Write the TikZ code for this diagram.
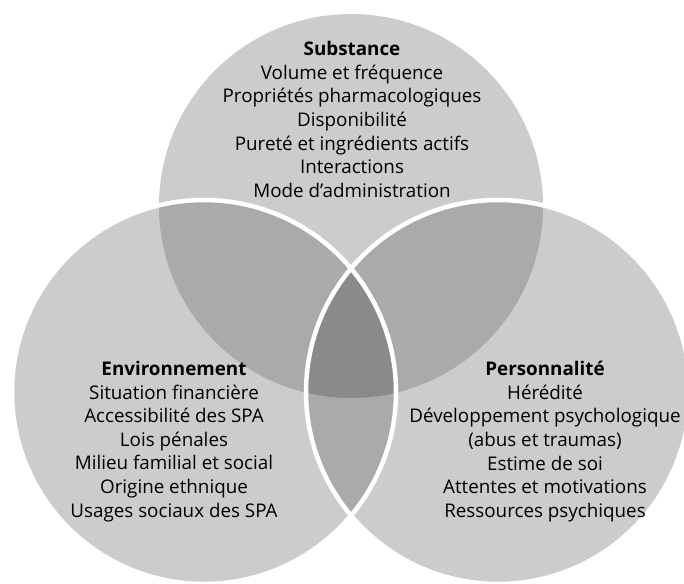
\documentclass[tikz,border=0pt]{standalone}
\usepackage{fontspec}
\setmainfont[Ligatures=TeX]{Open Sans}
\begin{document}
\begin{tikzpicture}[x=1pt,y=-1pt,
  txt/.style={align=center,text=black,inner sep=0pt,font=\fontsize{18.8}{23.6}\selectfont},
  rim/.style={draw=white,line width=4.5pt}]
\definecolor{one}{gray}{0.80}
\definecolor{two}{gray}{0.665}
\definecolor{three}{gray}{0.54}
\useasboundingbox (0,0) rectangle (684,583);
\def\R{192pt}
\coordinate (S) at (351,206);
\coordinate (E) at (204,392);
\coordinate (P) at (498,392);
% single regions
\fill[one] (S) circle[radius=\R];
\fill[one] (E) circle[radius=\R];
\fill[one] (P) circle[radius=\R];
% pairwise overlaps
\begin{scope}
  \clip (S) circle[radius=\R];
  \fill[two] (E) circle[radius=\R];
  \fill[two] (P) circle[radius=\R];
\end{scope}
\begin{scope}
  \clip (E) circle[radius=\R];
  \fill[two] (P) circle[radius=\R];
\end{scope}
% triple overlap
\begin{scope}
  \clip (S) circle[radius=\R];
  \clip (E) circle[radius=\R];
  \fill[three] (P) circle[radius=\R];
\end{scope}
% white rims of the lower circles
\draw[rim] (E) circle[radius=\R];
\draw[rim] (P) circle[radius=\R];
% texts
\node[txt] (sub) at (352,119.5) {\textbf{Substance}\\Volume et fréquence\\Propriétés pharmacologiques\\Disponibilité\\Pureté et ingrédients actifs\\Interactions\\Mode d’administration};
\node[txt] (env) at (174,441.5) {\textbf{Environnement}\\Situation financière\\Accessibilité des SPA\\Lois pénales\\Milieu familial et social\\Origine ethnique\\Usages sociaux des SPA};
\node[txt] (per) at (545,441.5) {\textbf{Personnalité}\\Hérédité\\Développement psychologique\\(abus et traumas)\\Estime de soi\\Attentes et motivations\\Ressources psychiques};
\end{tikzpicture}
\end{document}
